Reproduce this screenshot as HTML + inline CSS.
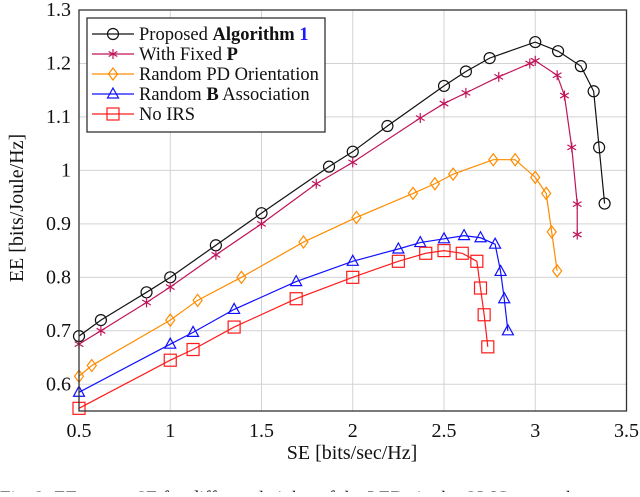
<!DOCTYPE html>
<html><head><meta charset="utf-8"><style>
body{margin:0;background:#fff;width:640px;height:492px;overflow:hidden}
svg text{font-family:"Liberation Serif",serif;fill:#111}
</style></head><body>
<svg id="chart" width="640" height="492" viewBox="0 0 640 492" xmlns="http://www.w3.org/2000/svg">
<g id="grid"></g>
<g id="series"></g>
<rect x="79" y="10" width="547.5" height="401" fill="none" stroke="#333" stroke-width="1.3"/>
<g id="ticks"></g>
<text x="352" y="459" font-size="20" text-anchor="middle">SE [bits/sec/Hz]</text>
<text x="0" y="0" font-size="20" text-anchor="middle" transform="translate(23,208) rotate(-90)">EE [bits/Joule/Hz]</text>
<text x="0" y="504" font-size="19">Fig. 2:  EE versus SE for different heights of the LEDs in the OWC network</text>
<g id="legend"></g>
</svg>
<script>
const xTicks=[0.5,1,1.5,2,2.5,3,3.5];
const yTicks=[0.6,0.7,0.8,0.9,1.0,1.1,1.2,1.3];
const names=["Proposed","With Fixed P","Random PD Orientation","Random B Association","No IRS"];
const sProposedX=[0.5,0.62,0.87,1,1.25,1.5,1.87,2,2.19,2.5,2.62,2.75,3,3.125,3.25,3.32,3.35,3.38];
const sProposedY=[0.69,0.72,0.772,0.80,0.86,0.92,1.007,1.035,1.083,1.158,1.185,1.21,1.24,1.223,1.195,1.148,1.043,0.938];
const sFixedX=[0.5,0.62,0.87,1,1.25,1.5,1.8,2,2.37,2.5,2.62,2.8,2.97,3,3.12,3.16,3.2,3.23,3.23];
const sFixedY=[0.675,0.70,0.753,0.782,0.842,0.90,0.975,1.015,1.098,1.125,1.145,1.175,1.2,1.205,1.178,1.14,1.043,0.937,0.88];
const sPDX=[0.5,0.57,1,1.15,1.39,1.73,2.02,2.33,2.45,2.55,2.77,2.89,3.0,3.06,3.09,3.12];
const sPDY=[0.615,0.635,0.72,0.757,0.80,0.866,0.912,0.957,0.975,0.993,1.02,1.02,0.987,0.957,0.885,0.812];
const sBX=[0.5,1,1.125,1.35,1.69,2,2.25,2.37,2.5,2.61,2.7,2.78,2.81,2.83,2.85];
const sBY=[0.585,0.675,0.697,0.74,0.792,0.83,0.853,0.865,0.872,0.878,0.874,0.862,0.811,0.76,0.70];
const sNoX=[0.5,1,1.125,1.35,1.69,2,2.25,2.4,2.5,2.6,2.68,2.7,2.72,2.74];
const sNoY=[0.555,0.645,0.665,0.707,0.76,0.80,0.83,0.845,0.85,0.845,0.83,0.78,0.73,0.67];
const X0=79,X1=626.5,Y0=411,Y1=10;
const xs=v=>X0+(v-0.5)/3*(X1-X0);
const ys=v=>Y0-(v-0.55)/0.75*(Y0-Y1);
const NS="http://www.w3.org/2000/svg";
function mk(t,a,p){const e=document.createElementNS(NS,t);for(const k in a)e.setAttribute(k,a[k]);p.appendChild(e);return e;}
const grid=document.getElementById('grid'),ticks=document.getElementById('ticks'),ser=document.getElementById('series'),leg=document.getElementById('legend');
xTicks.forEach(v=>{const l=mk('line',{x1:xs(v),x2:xs(v),y1:Y1,y2:Y0,stroke:'#d3d3d3','stroke-width':1},grid);


const t=mk('text',{x:xs(v),y:437,'font-size':20,'text-anchor':'middle'},ticks);t.textContent=v;

});
yTicks.forEach(v=>{const l=mk('line',{x1:X0,x2:X1,y1:ys(v),y2:ys(v),stroke:'#d3d3d3','stroke-width':1},grid);


const t=mk('text',{x:71,y:ys(v)+6,'font-size':20,'text-anchor':'end'},ticks);t.textContent=(v==1?'1':v.toFixed(1));

});
function marker(type,x,y,c,p){
 if(type=='o')return mk('circle',{cx:x,cy:y,r:5.5,fill:'none',stroke:c,'stroke-width':1.2},p);
 if(type=='s')return mk('rect',{x:x-6,y:y-6,width:12,height:12,fill:'none',stroke:c,'stroke-width':1.2},p);
 if(type=='d')return mk('polygon',{points:`${x},${y-6} ${x+4.5},${y} ${x},${y+6} ${x-4.5},${y}`,fill:'none',stroke:c,'stroke-width':1.2},p);
 if(type=='t')return mk('polygon',{points:`${x},${y-6} ${x+5.5},${y+4} ${x-5.5},${y+4}`,fill:'none',stroke:c,'stroke-width':1.2},p);
 const g=mk('g',{},p);for(let i=0;i<6;i++){const a=Math.PI/2+i*Math.PI/3;mk('line',{x1:x,y1:y,x2:x+5*Math.cos(a),y2:y-5*Math.sin(a),stroke:c,'stroke-width':1.2},g);}return g;
}
const S=[[sProposedX,sProposedY,'#111','o','proposed'],[sFixedX,sFixedY,'#c0145a','*','fixed-p'],[sPDX,sPDY,'#ff8c00','d','random-pd'],[sBX,sBY,'#1010ff','t','random-b'],[sNoX,sNoY,'#ff1a1a','s','no-irs']];
S.forEach(([X,Y,c,m,n])=>{
 const pl=mk('polyline',{points:X.map((x,i)=>xs(x)+','+ys(Y[i])).join(' '),fill:'none',stroke:c,'stroke-width':1.2},ser);
 
 
 X.forEach((x,i)=>{const e=marker(m,xs(x),ys(Y[i]),c,ser);
 
 });
});
mk('rect',{x:87,y:18,width:238,height:114,fill:'#fff',stroke:'#222','stroke-width':1.2},leg);
const labels=['Proposed <tspan font-weight="bold">Algorithm</tspan> <tspan fill="#1a1aff" font-weight="bold">1</tspan>','With Fixed <tspan font-weight="bold">P</tspan>','Random PD Orientation','Random <tspan font-weight="bold">B</tspan> Association','No IRS'];
S.forEach(([X,Y,c,m,n],i)=>{const y=34+i*20;
 const g=mk('g',{},leg);
 
 
 mk('line',{x1:92,x2:134,y1:y,y2:y,stroke:c,'stroke-width':1.2},g);marker(m,113,y,c,g);
 const t=mk('text',{x:139,y:y+6,'font-size':18.5},g);t.innerHTML=labels[i];});
</script>
</body></html>
